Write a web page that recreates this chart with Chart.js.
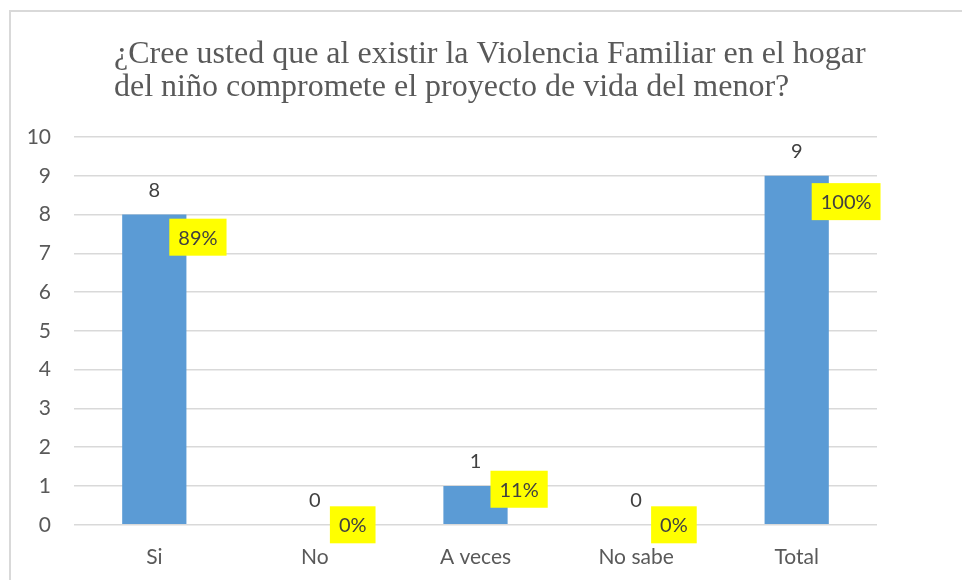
<!DOCTYPE html>
<html>
<head>
<meta charset="utf-8">
<script src="https://cdn.jsdelivr.net/npm/chart.js@4/dist/chart.umd.min.js"></script>
<style>
  html, body { margin: 0; padding: 0; background: #fff; overflow: hidden; }
  #wrap { position: relative; width: 962px; height: 580px; }
  #frame { position: absolute; left: 9px; top: 10px; width: 2000px; height: 2000px; border: 2px solid #d9d9d9; box-sizing: border-box; }
  canvas { position: absolute; left: 0; top: 0; }
</style>
</head>
<body>
<div id="wrap">
  <div id="frame"></div>
  <canvas id="resultsChart" width="962" height="580"></canvas>
</div>
<script>
const titleLines = [
  "¿Cree usted que al existir la Violencia Familiar en el hogar",
  "del niño compromete el proyecto de vida del menor?"
];
const categories = ["Si", "No", "A veces", "No sabe", "Total"];
const counts = [8, 0, 1, 0, 9];
const percents = [0.89, 0, 0.11, 0, 1.00];
const yMin = 0;
const yMax = 10;
const yStep = 1;

const textColor = "#595959";
const labelColor = "#404040";
const gridColor = "#d9d9d9";

const titlePlugin = {
  id: "leftTitle",
  beforeDraw(chart) {
    const ctx = chart.ctx;
    ctx.save();
    ctx.font = "32px 'Liberation Serif'";
    ctx.fillStyle = textColor;
    ctx.textAlign = "left";
    ctx.textBaseline = "alphabetic";
    ctx.fillText(titleLines[0], 114, 63);
    ctx.fillText(titleLines[1], 114, 96);
    ctx.restore();
  }
};

const labelPlugin = {
  id: "valueLabels",
  afterDatasetsDraw(chart) {
    const ctx = chart.ctx;
    ctx.save();
    ctx.font = "20px Lato";
    ctx.textBaseline = "middle";

    // counts above the bars
    chart.getDatasetMeta(0).data.forEach((bar, i) => {
      ctx.fillStyle = labelColor;
      ctx.textAlign = "center";
      ctx.fillText(String(counts[i]), bar.x, bar.y - 24);
    });

    // percentages in yellow boxes, to the right of the point
    chart.getDatasetMeta(1).data.forEach((pt, i) => {
      const txt = Math.round(percents[i] * 100) + "%";
      const w = ctx.measureText(txt).width + 18;
      const h = 37;
      const x0 = pt.x + 15;
      ctx.fillStyle = "#ffff00";
      ctx.fillRect(x0, pt.y - h / 2, w, h);
      ctx.fillStyle = labelColor;
      ctx.textAlign = "center";
      ctx.fillText(txt, x0 + w / 2, pt.y + 1);
    });
    ctx.restore();
  }
};

new Chart(document.getElementById("resultsChart"), {
  type: "bar",
  data: {
    labels: categories,
    datasets: [
      {
        label: "Cantidad",
        data: counts,
        backgroundColor: "#5b9bd5",
        categoryPercentage: 0.8,
        barPercentage: 0.5,
        yAxisID: "y",
        order: 1
      },
      {
        type: "line",
        label: "Porcentaje",
        data: percents,
        showLine: false,
        pointRadius: 0,
        pointHoverRadius: 0,
        yAxisID: "y2",
        order: 0
      }
    ]
  },
  options: {
    responsive: false,
    animation: false,
    events: [],
    layout: { padding: { top: 137, right: 85, bottom: -10, left: 0 } },
    plugins: {
      legend: { display: false },
      title: { display: false },
      tooltip: { enabled: false }
    },
    scales: {
      x: {
        grid: { display: false, drawTicks: false },
        border: { display: false },
        ticks: { color: textColor, font: { family: "Lato", size: 21 }, padding: 20 }
      },
      y: {
        min: yMin,
        max: yMax,
        afterFit(scale) { scale.width = 74; },
        grid: { color: gridColor, lineWidth: 1.5, drawTicks: false },
        border: { display: false },
        ticks: { stepSize: yStep, color: textColor, font: { family: "Lato", size: 21 }, padding: 23 }
      },
      y2: {
        display: false,
        min: 0,
        max: 1.2
      }
    }
  },
  plugins: [titlePlugin, labelPlugin]
});
</script>
</body>
</html>
